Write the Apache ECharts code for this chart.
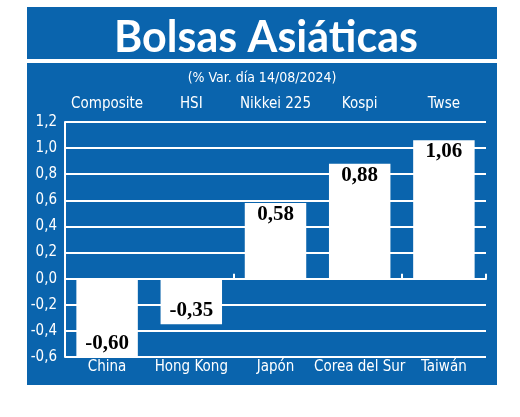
<!DOCTYPE html>
<html>
<head>
<meta charset="utf-8">
<script src="https://cdn.jsdelivr.net/npm/echarts@6/dist/echarts.min.js"></script>
<style>
html, body { margin: 0; padding: 0; background: #fff; }
#chart { width: 520px; height: 417px; }
</style>
</head>
<body>
<div id="chart"></div>
<script>
// datos
var paises = ['China', 'Hong Kong', 'Japón', 'Corea del Sur', 'Taiwán'];
var indices = ['Composite', 'HSI', 'Nikkei 225', 'Kospi', 'Twse'];
var variacion = [-0.60, -0.35, 0.58, 0.88, 1.06];

var azul = '#0a64ad';
var fuente = '"Liberation Sans Narrow", "DejaVu Sans Condensed", "Open Sans", sans-serif';

function coma(v, d) {
    return v.toFixed(d).replace('.', ',');
}

var myChart = echarts.init(document.getElementById('chart'));
var option = {
    backgroundColor: '#fff',
    animation: false,
    graphic: [
        {
            type: 'rect', z: -10,
            shape: { x: 27, y: 7, width: 470, height: 378 },
            style: { fill: azul }
        },
        {
            type: 'rect', z: -9,
            shape: { x: 27, y: 59, width: 470, height: 4 },
            style: { fill: '#fff' }
        }
    ],
    title: [
        {
            text: 'Bolsas Asiáticas',
            left: 261,
            textAlign: 'center',
            top: 12,
            textStyle: { color: '#fff', fontSize: 43, fontWeight: 'bold', fontFamily: 'Lato, "Open Sans", sans-serif' }
        },
        {
            text: '(% Var. día 14/08/2024)',
            left: 257,
            textAlign: 'center',
            top: 66,
            textStyle: { color: '#fff', fontSize: 14, fontWeight: 'normal', fontFamily: fuente }
        }
    ],
    grid: { left: 65, right: 34, top: 122, bottom: 60 },
    xAxis: [
        {
            // linea del cero con marcas
            type: 'category',
            data: paises,
            position: 'bottom',
            axisLine: { onZero: true, lineStyle: { color: '#fff', width: 2 } },
            axisTick: { show: true, inside: true, length: 5, lineStyle: { color: '#fff', width: 2 } },
            axisLabel: { show: false },
            splitLine: { show: false },
            z: 5
        },
        {
            type: 'category',
            data: paises,
            position: 'bottom',
            axisLine: { show: false, onZero: false },
            axisTick: { show: false },
            axisLabel: { color: '#fff', fontSize: 15, fontFamily: fuente, margin: 3, interval: 0 }
        },
        {
            type: 'category',
            data: indices,
            position: 'top',
            axisLine: { show: false, onZero: false },
            axisTick: { show: false },
            axisLabel: { color: '#fff', fontSize: 15, fontFamily: fuente, margin: 10, interval: 0 }
        }
    ],
    yAxis: {
        type: 'value',
        min: -0.6,
        max: 1.2,
        interval: 0.2,
        axisLine: { show: true, lineStyle: { color: '#fff', width: 2 } },
        axisTick: { show: false },
        axisLabel: {
            color: '#fff', fontSize: 15, fontFamily: fuente, margin: 8,
            formatter: function (v) { return coma(v, 1); }
        },
        splitLine: { show: true, lineStyle: { color: '#fff', width: 2 } }
    },
    series: [
        {
            type: 'bar',
            xAxisIndex: 0,
            barWidth: '73%',
            itemStyle: { color: '#fff' },
            z: 3,
            data: variacion.map(function (v) {
                return {
                    value: v,
                    label: {
                        show: true,
                        position: v < 0 ? 'insideBottom' : 'insideTop',
                        distance: v < 0 ? 3 : 1,
                        color: '#000',
                        fontSize: 21,
                        fontWeight: 'bold',
                        fontFamily: '"Liberation Serif", "DejaVu Serif", serif',
                        formatter: function (p) { return coma(p.value, 2); }
                    }
                };
            })
        }
    ]
};
myChart.setOption(option);
</script>
</body>
</html>
